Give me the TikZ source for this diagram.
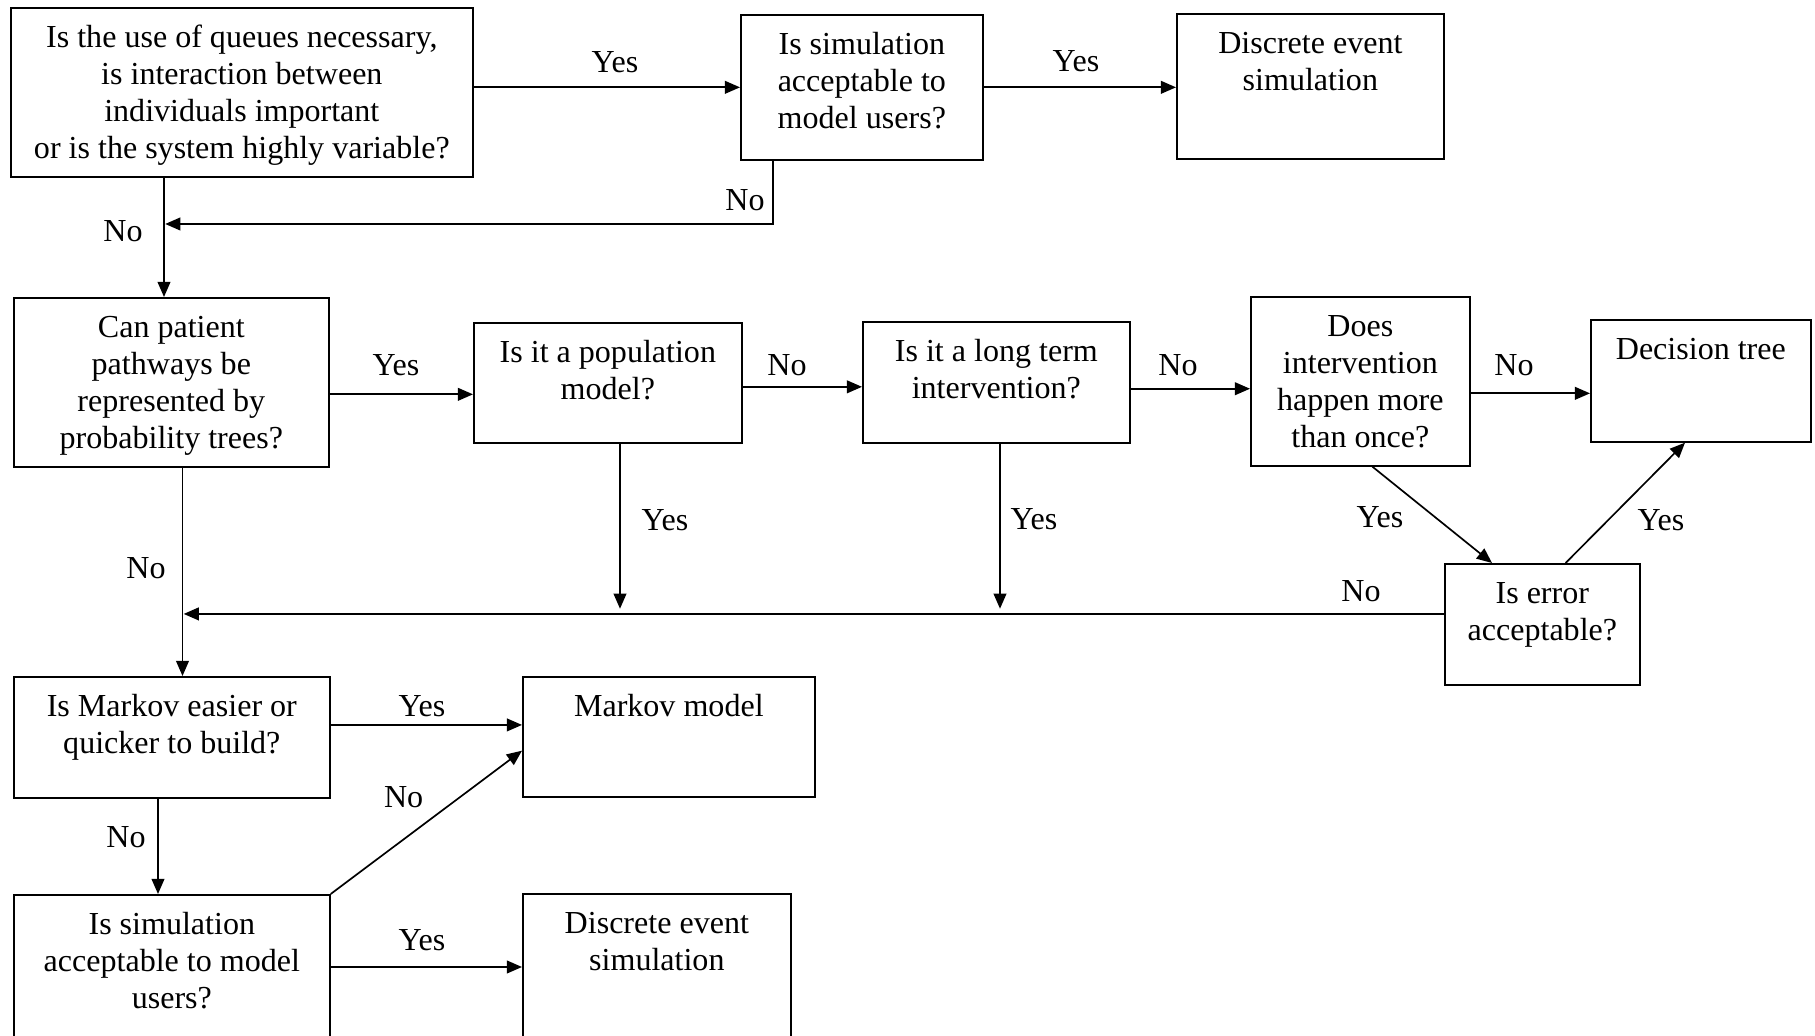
\documentclass[tikz,border=0pt]{standalone}
\usepackage{fontspec}
\setmainfont{Liberation Serif}
\usetikzlibrary{arrows.meta}

\begin{document}
\begin{tikzpicture}[line width=1.2pt,
  font=\fontsize{22.8}{26.3}\selectfont,
  box/.style={draw, anchor=north west, align=center, inner xsep=0pt, inner ysep=0pt},
  lbl/.style={inner sep=1pt},
  arr/.style={-{Triangle[length=0.38cm,width=0.32cm]}}]
\useasboundingbox (0,0) rectangle (45.375,25.9);
\clip (0,0) rectangle (45.375,25.9);
% first question and the simulation branch
\node[box, minimum width=11.55cm, text height=3.775cm, text depth=0.45cm] at (0.25,25.725) (queues) {Is the use of queues necessary,\\is interaction between\\individuals important\\or is the system highly variable?};
\node[box, minimum width=6.05cm, text height=2.85cm, text depth=0.775cm] at (18.5,25.55) (simok) {Is simulation\\acceptable to\\model users?};
\node[box, minimum width=6.675cm, text height=1.925cm, text depth=1.7cm] at (29.4,25.575) (des) {Discrete event\\simulation};
% middle row
\node[box, minimum width=7.875cm, text height=3.775cm, text depth=0.45cm] at (0.325,18.475) (paths) {Can patient\\pathways be\\represented by\\probability trees?};
\node[box, minimum width=6.7cm, text height=1.925cm, text depth=1.075cm] at (11.825,17.85) (popn) {Is it a population\\model?};
\node[box, minimum width=6.675cm, text height=1.925cm, text depth=1.1cm] at (21.55,17.875) (longterm) {Is it a long term\\intervention?};
\node[box, minimum width=5.475cm, text height=3.775cm, text depth=0.45cm] at (31.25,18.5) (once) {Does\\intervention\\happen more\\than once?};
\node[box, minimum width=5.5cm, text height=1cm, text depth=2.05cm] at (39.75,17.925) (dtree) {Decision tree};
\node[box, minimum width=4.875cm, text height=1.925cm, text depth=1.1cm] at (36.1,11.825) (error) {Is error\\acceptable?};
% bottom rows
\node[box, minimum width=7.9cm, text height=1.925cm, text depth=1.1cm] at (0.325,9) (easier) {Is Markov easier or\\quicker to build?};
\node[box, minimum width=7.3cm, text height=1cm, text depth=2cm] at (13.05,9) (markov) {Markov model};
\node[box, minimum width=7.9cm, text height=2.85cm, text depth=1.375cm] at (0.325,3.55) (simok2) {Is simulation\\acceptable to model\\users?};
\node[box, minimum width=6.7cm, text height=1.925cm, text depth=2.3cm] at (13.05,3.575) (des2) {Discrete event\\simulation};

% connectors
\coordinate (nA) at ([xshift=3.85cm]queues.south west);
\coordinate (nB) at (19.325,20.3);
\coordinate (nD) at ([xshift=4.2375cm]paths.south west);
\coordinate (nI) at ([yshift=0.26cm]error.west);
\coordinate (nE) at ([xshift=3.675cm]popn.south west);
\coordinate (nF) at ([xshift=3.45cm]longterm.south west);
\coordinate (nJ) at ([xshift=3.625cm]easier.south west);
\draw[arr] (queues.east |- simok.west) -- (simok.west);
\draw[arr] (simok.east) -- (simok.east -| des.west);
\draw[arr] (simok.south -| nB) -- (nB) -- ([xshift=0.03cm]nB -| nA);
\draw[arr] (nA) -- (nA |- paths.north);
\draw[arr] ([yshift=-0.3cm]paths.east) -- ([yshift=-0.3cm]paths.east -| popn.west);
\draw[arr] ([yshift=-0.1cm]popn.east) -- ([yshift=-0.1cm]popn.east -| longterm.west);
\draw[arr] ([yshift=-0.16cm]longterm.east) -- ([yshift=-0.16cm]longterm.east -| once.west);
\draw[arr] ([yshift=-0.3cm]once.east) -- ([yshift=-0.3cm]once.east -| dtree.west);
\draw[arr] ([xshift=3.06cm]once.south west) -- ([xshift=1.2cm]error.north west);
\draw[arr] ([xshift=3.04cm]error.north west) -- ([xshift=2.375cm]dtree.south west);
\draw[arr] (nE) -- ([yshift=0.13cm]nE |- nI);
\draw[arr] (nF) -- ([yshift=0.13cm]nF |- nI);
\draw[arr] (nI) -- ([xshift=0.03cm]nI -| nD);
\draw[arr] (nD) -- (nD |- easier.north);
\draw[arr] ([yshift=0.31cm]easier.east) -- ([yshift=0.31cm]easier.east -| markov.west);
\draw[arr] (nJ) -- (nJ |- simok2.north);
\draw[arr] (simok2.north east) -- ([yshift=1.175cm]markov.south west);
\draw[arr] ([yshift=-1.825cm]simok2.north east) -- ([yshift=-1.825cm]simok2.north east -| des2.west);

% answers on the connectors
\node[lbl] at (15.375,24.35) (y1) {Yes};
\node[lbl] at (26.9,24.375) (y2) {Yes};
\node[lbl] at (18.625,20.9) (n1) {No};
\node[lbl] at (3.075,20.125) (n2) {No};
\node[lbl] at (9.9,16.775) (y3) {Yes};
\node[lbl] at (19.675,16.775) (n3) {No};
\node[lbl] at (29.45,16.775) (n4) {No};
\node[lbl] at (37.85,16.775) (n5) {No};
\node[lbl] at (16.625,12.9) (y4) {Yes};
\node[lbl] at (25.85,12.925) (y5) {Yes};
\node[lbl] at (34.5,12.975) (y6) {Yes};
\node[lbl] at (41.525,12.9) (y7) {Yes};
\node[lbl] at (34.025,11.125) (n6) {No};
\node[lbl] at (3.65,11.7) (n7) {No};
\node[lbl] at (10.55,8.25) (y8) {Yes};
\node[lbl] at (3.15,4.975) (n8) {No};
\node[lbl] at (10.09,5.975) (n9) {No};
\node[lbl] at (10.55,2.4) (y9) {Yes};
\end{tikzpicture}
\end{document}
